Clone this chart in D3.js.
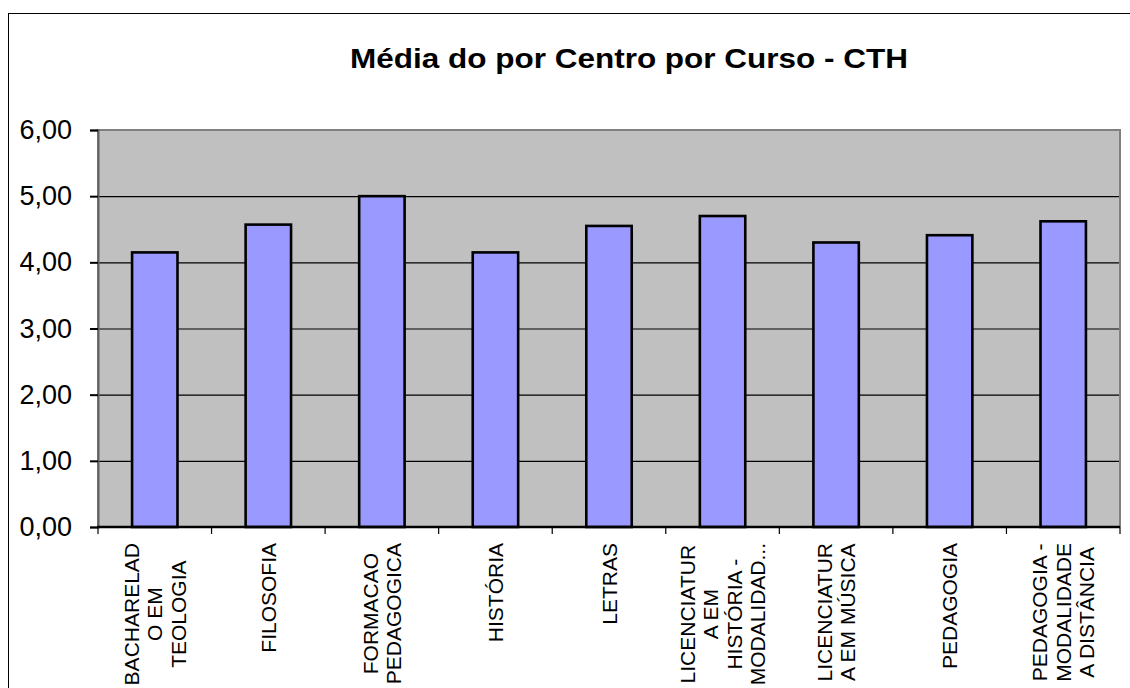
<!DOCTYPE html>
<html><head><meta charset="utf-8">
<script src="https://cdn.jsdelivr.net/npm/d3@7"></script>
<style>body{margin:0;background:#fff}svg{display:block}text{font-family:Arial,"Liberation Sans",sans-serif}</style>
</head><body>
<svg id="c" width="1130" height="688"></svg>
<script>
const title = "Média do por Centro por Curso - CTH";
const categories = [
  ["BACHARELAD","O EM","TEOLOGIA"],
  ["FILOSOFIA"],
  ["FORMACAO","PEDAGOGICA"],
  ["HISTÓRIA"],
  ["LETRAS"],
  ["LICENCIATUR","A EM","HISTÓRIA -","MODALIDAD..."],
  ["LICENCIATUR","A EM MÚSICA"],
  ["PEDAGOGIA"],
  ["PEDAGOGIA -","MODALIDADE","A DISTÂNCIA"]
];
const values = [4.15, 4.57, 5.00, 4.15, 4.55, 4.70, 4.30, 4.41, 4.62];
const yTicks = [0,1,2,3,4,5,6];

const svg = d3.select("#c");
const L = 98, R = 1120, T = 130, B = 527;
const x = d3.scaleBand().domain(d3.range(categories.length)).range([L, R]).paddingInner(0.6).paddingOuter(0.3);
const xb = d3.scaleBand().domain(d3.range(categories.length)).range([L, R]);
const y = d3.scaleLinear().domain([0, 6]).range([B, T]);
const fmt = v => d3.format(".2f")(v).replace(".", ",");

// outer border
svg.append("rect").attr("x", 8.5).attr("y", 13.5).attr("width", 1140).attr("height", 700)
  .attr("fill", "#fff").attr("stroke", "#000").attr("stroke-width", 1);

// title
svg.append("text").attr("x", 629).attr("y", 68).attr("text-anchor", "middle")
  .attr("font-size", 28).attr("font-weight", "bold").attr("textLength", 558)
  .attr("lengthAdjust", "spacingAndGlyphs").text(title);

// plot area
svg.append("rect").attr("x", L).attr("y", T).attr("width", R - L).attr("height", B - T)
  .attr("fill", "#C0C0C0");

// gridlines
svg.append("g").selectAll("line").data(yTicks.filter(d => d > 0 && d < 6)).join("line")
  .attr("x1", L).attr("x2", R).attr("y1", d => y(d) + 0.5).attr("y2", d => y(d) + 0.5)
  .attr("stroke", "#000").attr("stroke-width", 1.2);

// plot border (gray)
svg.append("path").attr("d", `M${L},${B}V${T}H${R}V${B}`).attr("fill", "none")
  .attr("stroke", "#808080").attr("stroke-width", 2);

// bars
svg.append("g").selectAll("rect").data(values).join("rect")
  .attr("x", (d, i) => x(i)).attr("width", x.bandwidth())
  .attr("y", d => y(d)).attr("height", d => B - y(d))
  .attr("fill", "#9999FF").attr("stroke", "#000").attr("stroke-width", 2.6);

// y axis
const yAxis = d3.axisLeft(y).tickValues(yTicks).tickSize(8).tickFormat(fmt);
const gy = svg.append("g").attr("transform", `translate(${L},0)`).call(yAxis);
gy.select(".domain").attr("stroke", "#606060").attr("stroke-width", 2);
gy.selectAll(".tick line").attr("stroke", "#000").attr("stroke-width", 2);
gy.selectAll(".tick text").attr("x", -26).attr("font-size", 27).attr("fill", "#000")
  .attr("font-family", "Arial, 'Liberation Sans', sans-serif");

// x axis line
svg.append("line").attr("x1", L - 1).attr("x2", R).attr("y1", B).attr("y2", B)
  .attr("stroke", "#000").attr("stroke-width", 2.5);
// x tick marks at band boundaries
const bounds = d3.range(categories.length + 1).map(i => i < categories.length ? xb(i) : R);
svg.append("g").selectAll("line").data(bounds).join("line")
  .attr("x1", d => d).attr("x2", d => d).attr("y1", B).attr("y2", B + 7)
  .attr("stroke", "#000").attr("stroke-width", 1.2);

// x labels (rotated)
const lh = 23.5, fs = 21, topY = 543;
categories.forEach((lines, i) => {
  const cx = xb(i) + xb.bandwidth() / 2;
  const g = svg.append("g");
  const texts = g.selectAll("text").data(lines).join("text")
    .attr("font-size", fs).attr("fill", "#000").attr("text-anchor", "middle")
    .text(d => d);
  let maxLen = 0;
  texts.each(function () { maxLen = Math.max(maxLen, this.getComputedTextLength()); });
  const cy = topY + maxLen / 2;
  const n = lines.length;
  texts.attr("transform", (d, j) => {
    const lx = cx + (j - (n - 1) / 2) * lh + fs * 0.36;
    return `translate(${lx},${cy}) rotate(-90)`;
  });
});
</script>
</body></html>
